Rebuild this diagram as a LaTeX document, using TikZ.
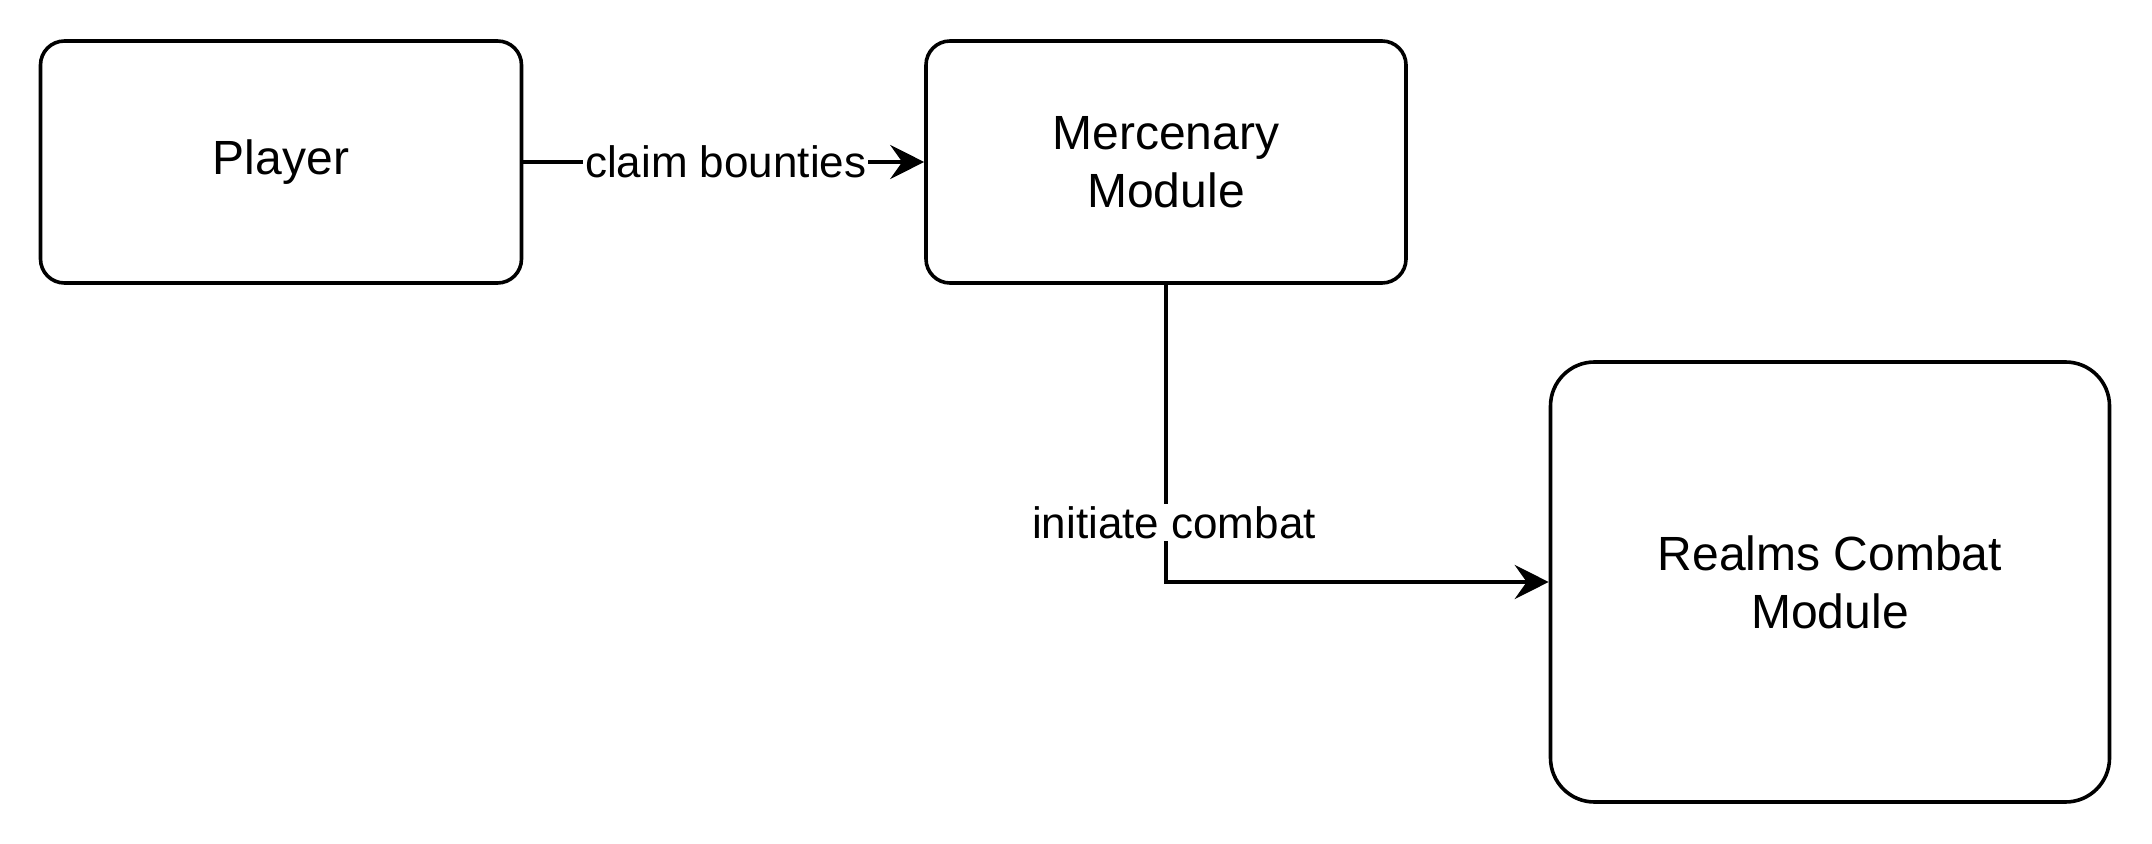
\documentclass[tikz,border=0pt]{standalone}
\usepackage{fontspec}
\setmainfont{Liberation Sans}
\usetikzlibrary{arrows.meta}
\begin{document}
\begin{tikzpicture}[x=0.5pt,y=-0.5pt,
  box/.style={draw=black, line width=1.8pt, align=center, inner sep=0pt,
    font=\fontsize{24}{29}\selectfont},
  lbl/.style={font=\fontsize{22}{26}\selectfont, fill=white, inner sep=1pt},
  arr/.style={line width=1.8pt, -{Stealth[length=17pt,width=17pt,inset=6pt]}}]
\useasboundingbox (0,0) rectangle (2152,844);
\node[box, rounded corners=12pt, minimum width=240.5pt, minimum height=121pt] (player) at (281,162) {Player};
\node[box, rounded corners=12pt, minimum width=240pt, minimum height=121pt] (merc) at (1166,162) {Mercenary\\Module};
\node[box, rounded corners=22pt, minimum width=279.5pt, minimum height=220pt] (realms) at (1830,582) {Realms Combat\\Module};
\draw[arr] (player.east) -- node[lbl, xshift=1pt] {claim bounties} (merc.west);
\draw[arr] (merc.south) |- node[lbl, pos=0.4, xshift=4pt] {initiate combat} (realms.west);
\end{tikzpicture}
\end{document}
